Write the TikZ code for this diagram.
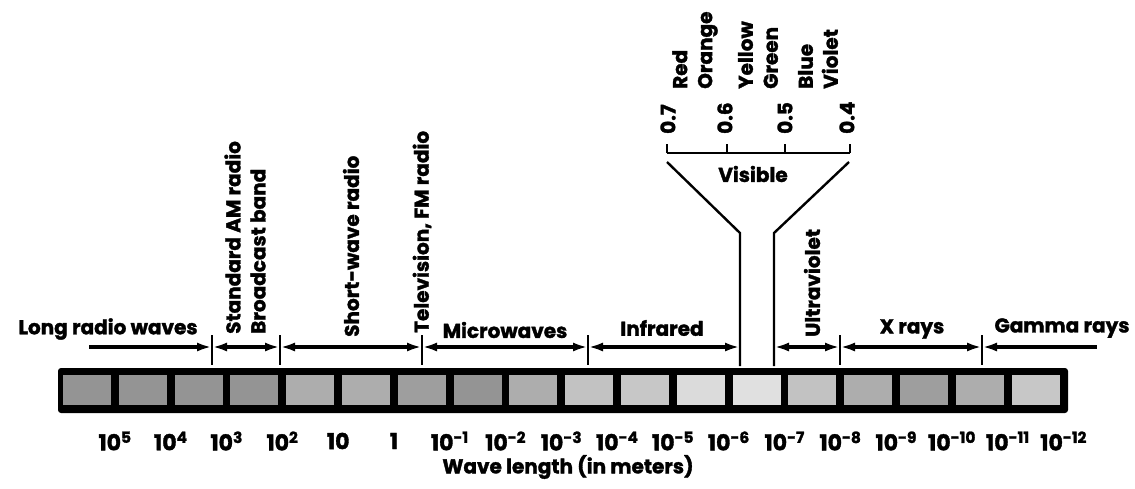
\documentclass[tikz,border=0pt]{standalone}
\usepackage{fontspec}
\setmainfont{Poppins}[BoldFeatures={FakeBold=1.6}]
\usetikzlibrary{arrows.meta, calc}

\begin{document}
\begin{tikzpicture}[
  x=1pt, y=-1pt,
  >={Latex[length=15pt,width=9pt]},
  font=\fontsize{20}{25}\selectfont\bfseries,
  band/.style={line width=3.5pt, <->},
  tick/.style={line width=2.2pt},
  funnel/.style={line width=2.4pt},
  lbl/.style={inner sep=0pt},
  vlbl/.style={inner sep=0pt, rotate=90, anchor=west, align=left},
  cell/.style={minimum width=48pt, minimum height=30pt, inner sep=0pt},
  nlbl/.style={inner sep=0pt, font=\fontsize{22}{24}\selectfont\bfseries}
]
\useasboundingbox (0,0) rectangle (1135,488);

% the bar of cells
\node[fill=black, rounded corners=3pt, minimum width=1010pt, minimum height=45pt, inner sep=0pt] (bar) at (563,390.5) {};
\foreach \g [count=\i from 0] in {42,42,42,42,32,32,38,42,32,24,22,14,12,24,32,38,32,22}
  \node[cell, fill=black!\g] (cell\i) at (87+55.8*\i,390) {};

% wave length values
\foreach \t [count=\i from 0] in {10\textsuperscript{5}, 10\textsuperscript{4}, 10\textsuperscript{3}, 10\textsuperscript{2}, 10, 1,
    10\textsuperscript{-1}, 10\textsuperscript{-2}, 10\textsuperscript{-3}, 10\textsuperscript{-4}, 10\textsuperscript{-5}, 10\textsuperscript{-6},
    10\textsuperscript{-7}, 10\textsuperscript{-8}, 10\textsuperscript{-9}, 10\textsuperscript{-10}, 10\textsuperscript{-11}, 10\textsuperscript{-12}}
  \node[nlbl] (val\i) at (115+55.8*\i,441) {\t};
\node[lbl] (axis) at (568,467) {Wave length (in meters)};

% band limits
\coordinate (w0) at (89,347);
\coordinate (w1) at (212,347);
\coordinate (w2) at (280,347);
\coordinate (w3) at (422,347);
\coordinate (w4) at (588,347);
\coordinate (w5) at (740,347);
\coordinate (w6) at (774,347);
\coordinate (w7) at (840,347);
\coordinate (w8) at (982,347);
\coordinate (w9) at (1097,347);

\draw[band, ->] (w0) -- (w1);
\draw[band] (w1) -- (w2);
\draw[band] (w2) -- (w3);
\draw[band] (w3) -- (w4);
\draw[band] (w4) -- (w5);
\draw[band] (w6) -- (w7);
\draw[band] (w7) -- (w8);
\draw[band, <-] (w8) -- (w9);
\foreach \w in {w1,w2,w3,w4,w7,w8}
  \draw[tick] ($(\w)+(0,-12)$) -- ($(\w)+(0,18)$);

\node[lbl] (longr) at (108,329) {Long radio waves};
\node[vlbl] (am) at (245,334) {Standard AM radio\\Broadcast band};
\node[vlbl] (sw) at (351,337) {Short-wave radio};
\node[vlbl] (tv) at (422,333) {Television, FM radio};
\node[lbl] (micro) at (505,330) {Microwaves};
\node[lbl] (ir) at (662,328) {Infrared};
\node[vlbl] (uv) at (812,337) {Ultraviolet};
\node[lbl] (xr) at (912,329) {X rays};
\node[lbl] (gr) at (1062,328) {Gamma rays};

% visible funnel
\coordinate (v1) at (667,153);
\coordinate (v2) at (727,153);
\coordinate (v3) at (785,153);
\coordinate (v4) at (850,153);
\draw[tick] (v1) -- (v4);
\foreach \v in {v1,v2,v3,v4}
  \draw[tick] (\v) -- ($(\v)+(0,-9)$);
\draw[funnel] (667,162) coordinate (fa) -- (740,233) coordinate (fb) -- (740,366) coordinate (fc);
\draw[funnel] (849,162) coordinate (fd) -- (774,233) coordinate (fe) -- (774,366) coordinate (ff);
\node[lbl] (vis) at (753,174) {Visible};

\node[vlbl] (n7) at (668,134) {0.7};
\node[vlbl] (n6) at (725,134) {0.6};
\node[vlbl] (n5) at (785,134) {0.5};
\node[vlbl] (n4) at (847,134) {0.4};

\node[vlbl] (col1) at (695,89) {Red\\Orange};
\node[vlbl] (col2) at (758,89) {Yellow\\Green};
\node[vlbl] (col3) at (818,89) {Blue\\Violet};
\end{tikzpicture}
\end{document}
